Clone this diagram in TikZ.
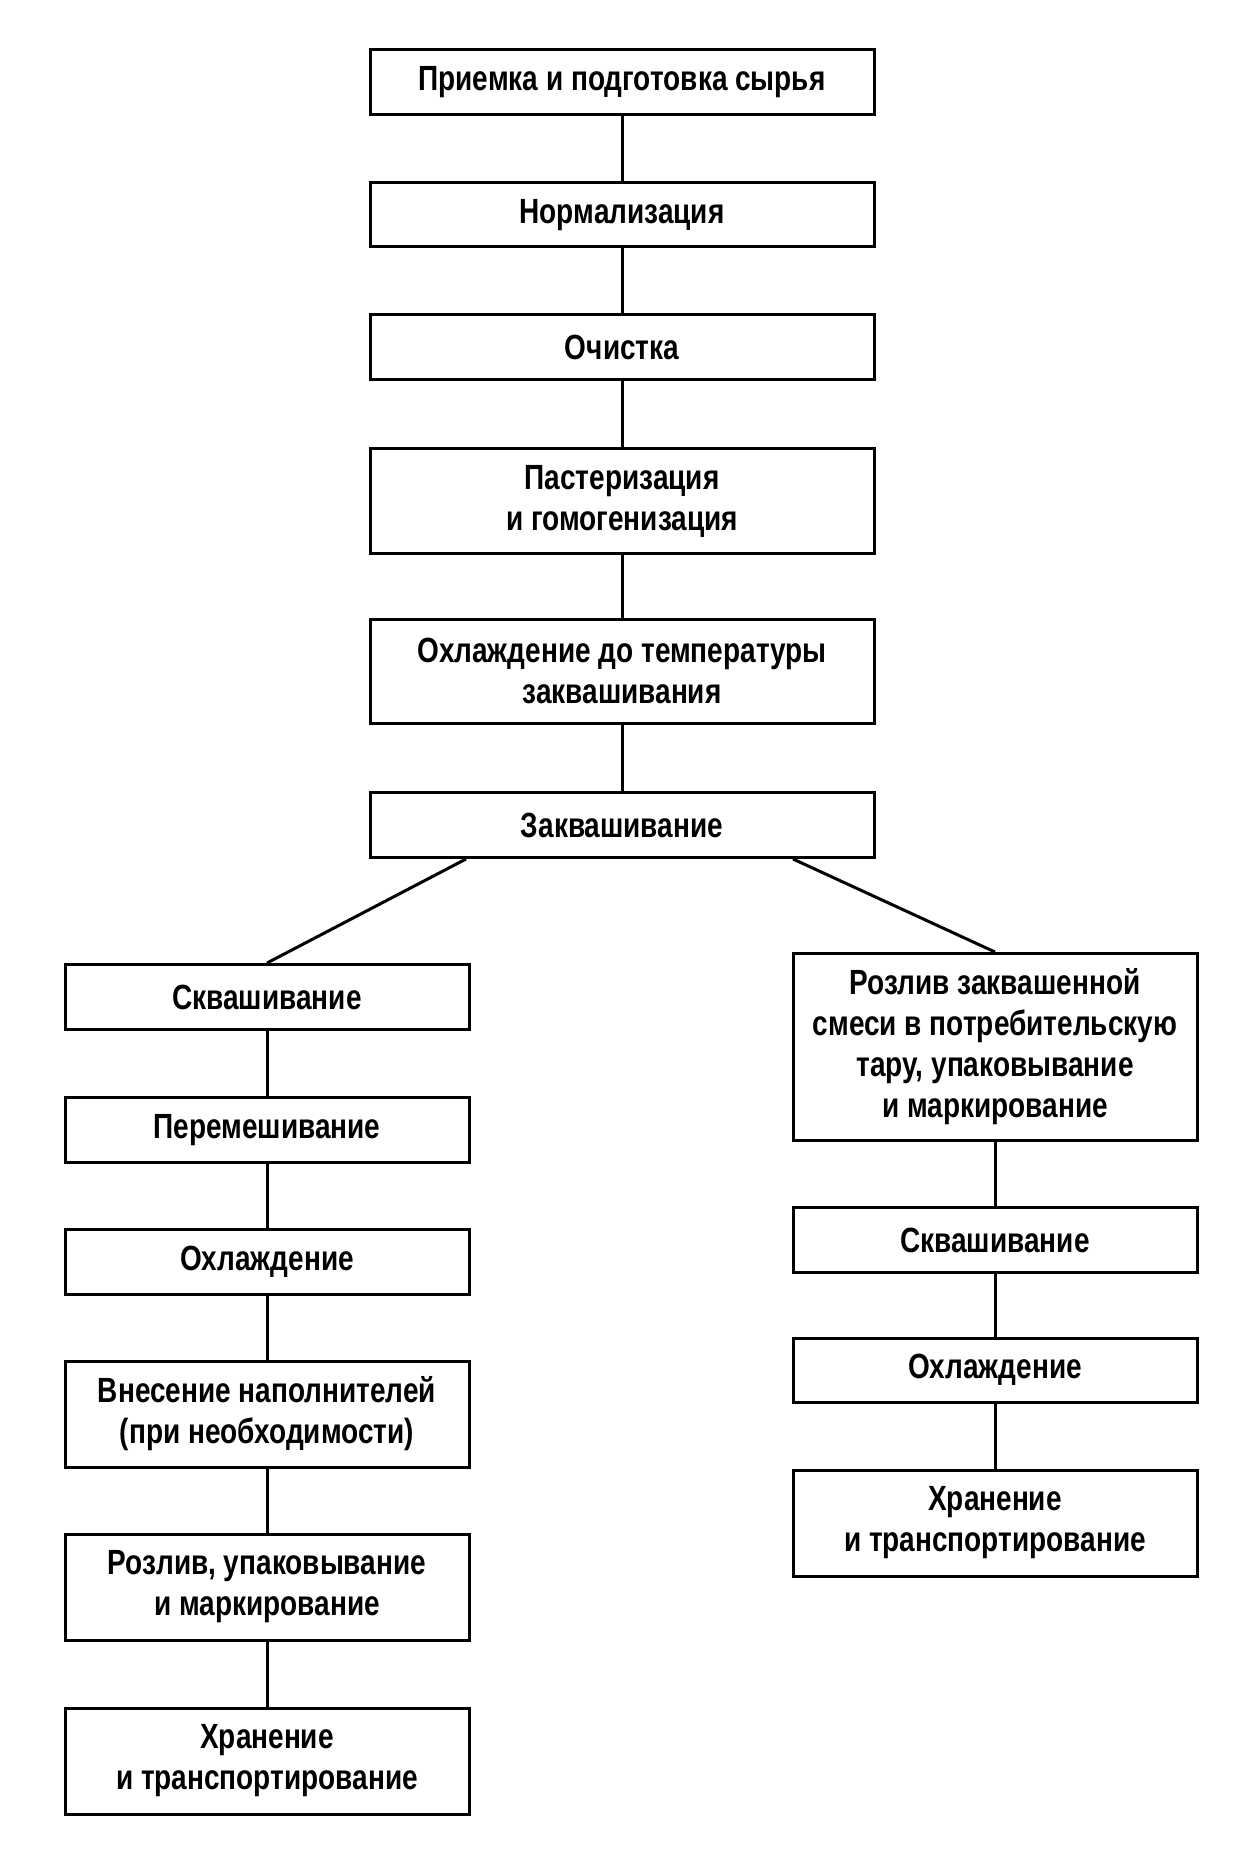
\documentclass[tikz,border=0pt]{standalone}
\usepackage{fontspec}
\setmainfont{Liberation Sans}[FakeStretch=0.8]
\begin{document}
\begin{tikzpicture}[x=1pt,y=-1pt,
  box/.style={draw, line width=3pt, inner sep=0pt, align=center,
    font=\fontsize{35}{41}\selectfont\bfseries},
  topbox/.style={box, minimum width=504pt},
  sidebox/.style={box, minimum width=404pt},
  link/.style={line width=3pt}]
\useasboundingbox (0,0) rectangle (1251,1851);
\node[topbox, minimum height=65pt] (n1) at (622,82) {Приемка и подготовка сырья};
\node[topbox, minimum height=64pt] (n2) at (622,215) {Нормализация};
\node[topbox, minimum height=64pt] (n3) at (622,347) {Очистка};
\node[topbox, minimum height=105pt] (n4) at (622,501) {Пастеризация\\и гомогенизация};
\node[topbox, minimum height=104pt] (n5) at (622,671) {Охлаждение до температуры\\заквашивания};
\node[topbox, minimum height=65pt] (n6) at (622,825) {Заквашивание};

\node[sidebox, minimum height=65pt] (l1) at (267,997) {Сквашивание};
\node[sidebox, minimum height=65pt] (l2) at (267,1130) {Перемешивание};
\node[sidebox, minimum height=65pt] (l3) at (267,1262) {Охлаждение};
\node[sidebox, minimum height=106pt] (l4) at (267,1414) {Внесение наполнителей\\(при необходимости)};
\node[sidebox, minimum height=106pt] (l5) at (267,1587) {Розлив, упаковывание\\и маркирование};
\node[sidebox, minimum height=106pt] (l6) at (267,1761) {Хранение\\и транспортирование};

\node[sidebox, minimum height=187pt] (r1) at (995,1047) {Розлив заквашенной\\смеси в потребительскую\\тару, упаковывание\\и маркирование};
\node[sidebox, minimum height=65pt] (r2) at (995,1240) {Сквашивание};
\node[sidebox, minimum height=64pt] (r3) at (995,1370) {Охлаждение};
\node[sidebox, minimum height=106pt] (r4) at (995,1523) {Хранение\\и транспортирование};

\draw[link] (n1) -- (n2);
\draw[link] (n2) -- (n3);
\draw[link] (n3) -- (n4);
\draw[link] (n4) -- (n5);
\draw[link] (n5) -- (n6);
\draw[link] ([xshift=-156pt]n6.south) -- (l1.north);
\draw[link] ([xshift=171pt]n6.south) -- (r1.north);
\draw[link] (l1) -- (l2);
\draw[link] (l2) -- (l3);
\draw[link] (l3) -- (l4);
\draw[link] (l4) -- (l5);
\draw[link] (l5) -- (l6);
\draw[link] (r1) -- (r2);
\draw[link] (r2) -- (r3);
\draw[link] (r3) -- (r4);
\end{tikzpicture}
\end{document}
